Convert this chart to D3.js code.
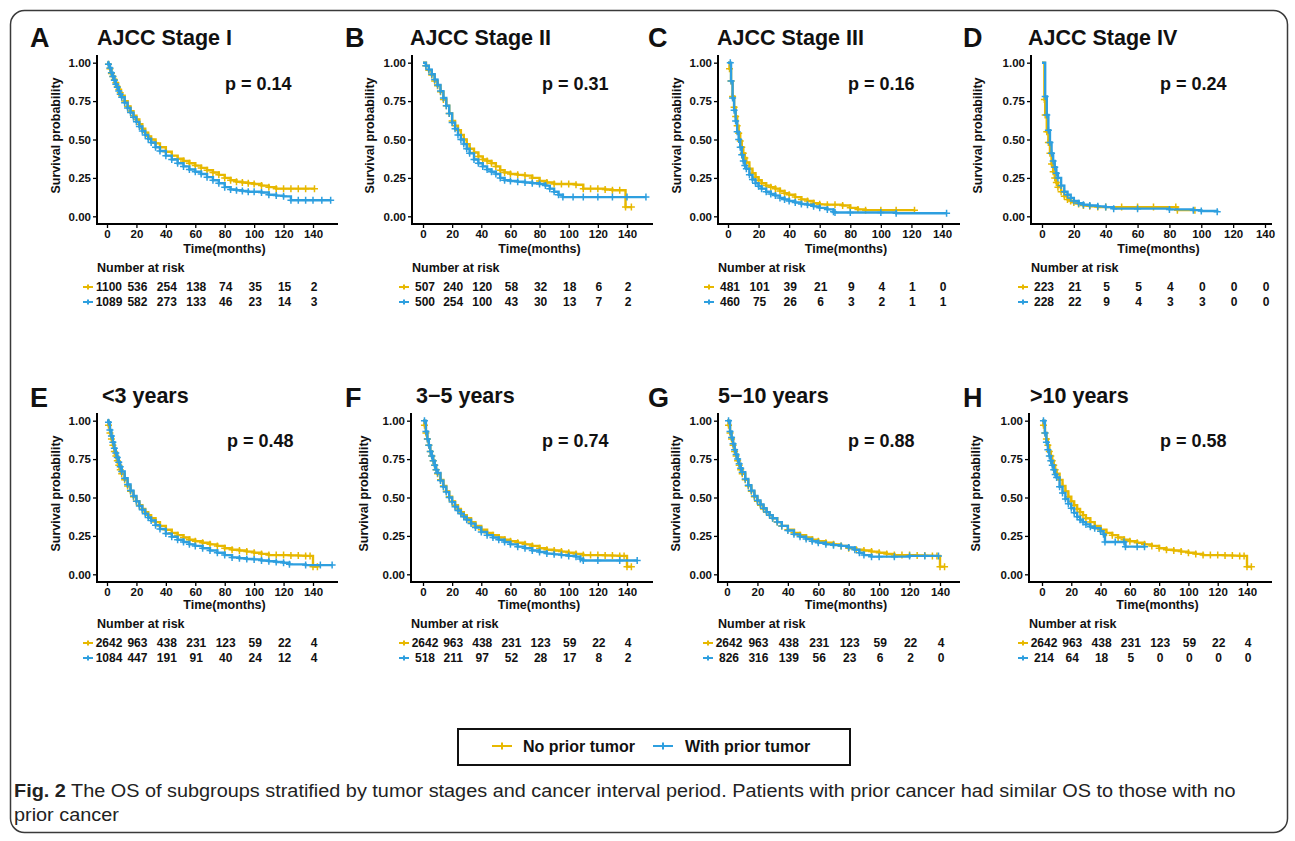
<!DOCTYPE html>
<html><head><meta charset="utf-8">
<script src="https://cdn.jsdelivr.net/npm/d3@7"></script>
<style>
body{margin:0;background:#fff}
svg{display:block}
text{font-family:"Liberation Sans",Arial,Helvetica,sans-serif}
</style>
</head><body>
<svg id="c" width="1295" height="841"></svg>
<script>
// ---------------- DATA ----------------
const seriesNames = ["No prior tumor", "With prior tumor"];
const seriesColors = ["#E7B800", "#2E9FDF"];
const timeTicks = [0, 20, 40, 60, 80, 100, 120, 140];
const survTicks = [0, 0.25, 0.5, 0.75, 1];
const panelLetters = ["A", "B", "C", "D", "E", "F", "G", "H"];
const panelTitles = ["AJCC Stage I", "AJCC Stage II", "AJCC Stage III", "AJCC Stage IV", "<3 years", "3\u22125 years", "5\u221210 years", ">10 years"];
const pLabels = ["p = 0.14", "p = 0.31", "p = 0.16", "p = 0.24", "p = 0.48", "p = 0.74", "p = 0.88", "p = 0.58"];

// Kaplan-Meier curves: [months, survival probability]
const noPriorA = [[0,1],[1,0.99],[2,0.96],[3,0.93],[4,0.91],[5,0.89],[6,0.87],[7,0.845],[8,0.825],[9,0.805],[10,0.785],[12,0.75],[14,0.715],[16,0.685],[18,0.655],[20,0.63],[22,0.6],[24,0.57],[26,0.545],[28,0.52],[30,0.5],[33,0.475],[36,0.45],[40,0.42],[44,0.395],[48,0.375],[52,0.36],[56,0.345],[60,0.33],[64,0.315],[68,0.3],[72,0.285],[76,0.27],[80,0.25],[84,0.235],[88,0.225],[92,0.22],[96,0.215],[100,0.21],[105,0.2],[110,0.19],[115,0.18],[120,0.18],[125,0.18],[130,0.18],[135,0.18],[141,0.18]];
const withPriorA = [[0,1],[1,0.99],[2,0.965],[3,0.935],[4,0.91],[5,0.885],[6,0.86],[7,0.84],[8,0.815],[9,0.795],[10,0.775],[12,0.74],[14,0.705],[16,0.675],[18,0.645],[20,0.615],[22,0.585],[24,0.555],[26,0.53],[28,0.505],[30,0.48],[33,0.45],[36,0.425],[40,0.395],[44,0.37],[48,0.345],[52,0.325],[56,0.305],[60,0.29],[64,0.275],[68,0.255],[72,0.235],[76,0.215],[80,0.19],[84,0.175],[88,0.17],[92,0.165],[96,0.16],[100,0.16],[105,0.155],[110,0.14],[115,0.135],[120,0.13],[125,0.105],[130,0.105],[135,0.105],[140,0.105],[146,0.105],[152,0.105]];
const noPriorB = [[0,1],[2,0.98],[4,0.95],[6,0.92],[8,0.88],[10,0.85],[12,0.81],[14,0.76],[16,0.72],[18,0.67],[20,0.62],[22,0.59],[24,0.56],[26,0.53],[28,0.5],[30,0.47],[32,0.44],[35,0.415],[38,0.39],[41,0.37],[44,0.36],[47,0.345],[50,0.325],[53,0.3],[56,0.285],[60,0.275],[65,0.27],[70,0.265],[75,0.25],[80,0.23],[85,0.22],[90,0.21],[95,0.21],[100,0.21],[105,0.205],[110,0.18],[115,0.18],[120,0.18],[125,0.175],[130,0.17],[135,0.17],[139,0.06],[143,0.06]];
const withPriorB = [[0,1],[2,0.98],[4,0.955],[6,0.925],[8,0.89],[10,0.855],[12,0.815],[14,0.77],[16,0.72],[18,0.67],[20,0.61],[22,0.57],[24,0.53],[26,0.5],[28,0.47],[30,0.44],[32,0.41],[35,0.37],[38,0.345],[41,0.325],[44,0.305],[47,0.29],[50,0.275],[53,0.25],[56,0.235],[60,0.23],[65,0.225],[70,0.22],[75,0.215],[80,0.21],[84,0.2],[87,0.18],[90,0.16],[93,0.14],[96,0.125],[103,0.125],[110,0.125],[120,0.125],[130,0.125],[140,0.125],[153,0.125]];
const noPriorC = [[0,1],[1,0.96],[2,0.88],[3,0.78],[4,0.71],[5,0.65],[6,0.59],[7,0.54],[8,0.49],[9,0.45],[10,0.41],[11,0.38],[12,0.35],[14,0.31],[16,0.28],[18,0.255],[20,0.235],[22,0.215],[25,0.2],[28,0.19],[31,0.18],[34,0.165],[37,0.15],[40,0.14],[44,0.125],[48,0.11],[52,0.1],[56,0.085],[60,0.078],[65,0.076],[70,0.076],[75,0.07],[80,0.055],[85,0.045],[90,0.04],[100,0.04],[110,0.04],[122,0.04]];
const withPriorC = [[0,1],[1.5,1],[2,0.88],[3,0.77],[4,0.69],[5,0.62],[6,0.55],[7,0.5],[8,0.45],[9,0.4],[10,0.36],[11,0.33],[12,0.31],[14,0.27],[16,0.24],[18,0.215],[20,0.195],[22,0.18],[25,0.16],[28,0.145],[31,0.135],[34,0.12],[37,0.11],[40,0.1],[44,0.09],[48,0.08],[52,0.075],[56,0.065],[60,0.055],[65,0.045],[69,0.03],[70,0.025],[80,0.025],[100,0.025],[110,0.02],[143,0.02]];
const noPriorD = [[0,1],[1.5,0.76],[2,0.66],[3,0.55],[4,0.48],[5,0.41],[6,0.34],[7,0.29],[8,0.25],[9,0.22],[10,0.19],[12,0.16],[14,0.13],[16,0.11],[18,0.1],[20,0.09],[23,0.08],[26,0.07],[30,0.065],[35,0.06],[40,0.06],[50,0.06],[60,0.06],[70,0.06],[84,0.06],[85,0.04],[96,0.04]];
const withPriorD = [[0,1],[2,0.78],[3,0.66],[4,0.56],[5,0.48],[6,0.41],[7,0.36],[8,0.32],[9,0.28],[10,0.25],[12,0.2],[14,0.16],[16,0.14],[18,0.12],[20,0.1],[23,0.085],[26,0.075],[30,0.07],[35,0.065],[40,0.06],[45,0.05],[60,0.05],[80,0.045],[95,0.04],[100,0.035],[110,0.03]];
// "No prior tumor" group is the same cohort in panels E-H
const noPriorInterval = [[0,1],[1,0.97],[2,0.92],[3,0.88],[4,0.84],[5,0.8],[6,0.77],[7,0.74],[8,0.71],[9,0.68],[10,0.655],[12,0.615],[14,0.575],[16,0.54],[18,0.505],[20,0.475],[22,0.45],[24,0.425],[26,0.405],[28,0.385],[30,0.365],[33,0.34],[36,0.315],[40,0.29],[44,0.27],[48,0.255],[52,0.24],[56,0.225],[60,0.215],[65,0.205],[70,0.195],[75,0.185],[80,0.17],[85,0.16],[90,0.155],[95,0.148],[100,0.14],[105,0.133],[110,0.125],[115,0.125],[120,0.125],[125,0.123],[130,0.122],[135,0.12],[138,0.12],[140,0.05],[143,0.05]];
const withPriorE = [[0,1],[1,0.99],[2,0.94],[3,0.9],[4,0.86],[5,0.82],[6,0.79],[7,0.76],[8,0.73],[9,0.7],[10,0.67],[12,0.625],[14,0.585],[16,0.545],[18,0.51],[20,0.475],[22,0.445],[24,0.42],[26,0.395],[28,0.37],[30,0.35],[33,0.32],[36,0.295],[40,0.265],[44,0.245],[48,0.225],[52,0.21],[56,0.195],[60,0.185],[65,0.17],[70,0.155],[75,0.14],[80,0.125],[85,0.11],[90,0.105],[95,0.1],[100,0.097],[105,0.09],[110,0.085],[115,0.08],[120,0.075],[124,0.065],[135,0.06],[145,0.06],[153,0.06]];
const withPriorF = [[0,1],[1,1],[2,0.93],[3,0.88],[4,0.84],[5,0.8],[6,0.77],[7,0.74],[8,0.71],[9,0.68],[10,0.66],[12,0.61],[14,0.57],[16,0.535],[18,0.5],[20,0.47],[22,0.44],[24,0.415],[26,0.395],[28,0.375],[30,0.355],[33,0.33],[36,0.305],[40,0.275],[44,0.255],[48,0.24],[52,0.225],[56,0.21],[60,0.195],[65,0.18],[70,0.17],[75,0.155],[80,0.145],[85,0.135],[90,0.13],[95,0.125],[100,0.12],[105,0.115],[108,0.1],[110,0.09],[120,0.09],[135,0.09],[147,0.09]];
const withPriorG = [[0,1],[1,1],[2,0.93],[3,0.89],[4,0.85],[5,0.81],[6,0.78],[7,0.75],[8,0.72],[9,0.69],[10,0.665],[12,0.62],[14,0.58],[16,0.545],[18,0.51],[20,0.48],[22,0.455],[24,0.43],[26,0.405],[28,0.385],[30,0.365],[33,0.34],[36,0.315],[40,0.285],[44,0.26],[48,0.245],[52,0.23],[56,0.215],[60,0.205],[65,0.195],[70,0.19],[75,0.185],[80,0.175],[84,0.16],[87,0.14],[90,0.125],[95,0.115],[100,0.115],[110,0.115],[120,0.12],[130,0.12],[139,0.12]];
const withPriorH = [[0,1],[1,1],[2,0.92],[3,0.86],[4,0.81],[5,0.77],[6,0.74],[7,0.71],[8,0.68],[9,0.65],[10,0.63],[12,0.57],[14,0.53],[16,0.49],[18,0.46],[20,0.43],[22,0.4],[24,0.375],[26,0.355],[28,0.34],[30,0.325],[33,0.31],[36,0.3],[40,0.28],[42,0.26],[43,0.21],[50,0.21],[56,0.21],[57,0.18],[65,0.18],[70,0.18]];

// Number at risk tables (at timeTicks)
const riskNoA = [1100, 536, 254, 138, 74, 35, 15, 2];
const riskWithA = [1089, 582, 273, 133, 46, 23, 14, 3];
const riskNoB = [507, 240, 120, 58, 32, 18, 6, 2];
const riskWithB = [500, 254, 100, 43, 30, 13, 7, 2];
const riskNoC = [481, 101, 39, 21, 9, 4, 1, 0];
const riskWithC = [460, 75, 26, 6, 3, 2, 1, 1];
const riskNoD = [223, 21, 5, 5, 4, 0, 0, 0];
const riskWithD = [228, 22, 9, 4, 3, 3, 0, 0];
const riskNoInterval = [2642, 963, 438, 231, 123, 59, 22, 4];
const riskWithE = [1084, 447, 191, 91, 40, 24, 12, 4];
const riskWithF = [518, 211, 97, 52, 28, 17, 8, 2];
const riskWithG = [826, 316, 139, 56, 23, 6, 2, 0];
const riskWithH = [214, 64, 18, 5, 0, 0, 0, 0];

const captionBold = "Fig. 2";
const captionLine1 = " The OS of subgroups stratified by tumor stages and cancer interval period. Patients with prior cancer had similar OS to those with no";
const captionLine2 = "prior cancer";

// ---------------- LAYOUT ----------------
const curvesNo = [noPriorA, noPriorB, noPriorC, noPriorD, noPriorInterval, noPriorInterval, noPriorInterval, noPriorInterval];
const curvesWith = [withPriorA, withPriorB, withPriorC, withPriorD, withPriorE, withPriorF, withPriorG, withPriorH];
const risksNo = [riskNoA, riskNoB, riskNoC, riskNoD, riskNoInterval, riskNoInterval, riskNoInterval, riskNoInterval];
const risksWith = [riskWithA, riskWithB, riskWithC, riskWithD, riskWithE, riskWithF, riskWithG, riskWithH];

const boxes = [
  {left:97, right:338, x0:107, x140:313, letterX:30, titleX:97, ylabX:56, pX:225},
  {left:412, right:653, x0:423, x140:627, letterX:345, titleX:410, ylabX:370, pX:542},
  {left:718, right:960, x0:728, x140:942, letterX:648, titleX:717, ylabX:677, pX:848},
  {left:1031, right:1272, x0:1042, x140:1265, letterX:963, titleX:1028, ylabX:978, pX:1160},
  {left:97, right:338, x0:107, x140:313, letterX:30, titleX:102, ylabX:56, pX:227},
  {left:411, right:653, x0:423, x140:627, letterX:345, titleX:416, ylabX:364, pX:542},
  {left:718, right:960, x0:727, x140:940, letterX:648, titleX:718, ylabX:676, pX:848},
  {left:1029, right:1272, x0:1042, x140:1247, letterX:963, titleX:1030, ylabX:976, pX:1160}
];
const rows = [
  {top:55, bottom:224, letterY:47, titleY:45, pY:90, timeY:253, narY:272, r1:291, r2:306},
  {top:413, bottom:582, letterY:407, titleY:403, pY:447, timeY:609, narY:628, r1:647, r2:662}
];

const svg = d3.select("#c");
svg.append("rect").attr("width", 1295).attr("height", 841).attr("fill", "#fff");
svg.append("rect").attr("x", 10.5).attr("y", 10.5).attr("width", 1277).attr("height", 822)
  .attr("rx", 14).attr("fill", "none").attr("stroke", "#3a3a3a").attr("stroke-width", 1.5);

function keySymbol(g, cx, cy, color, half, tick) {
  g.append("path")
    .attr("d", `M${cx - half},${cy}H${cx + half}M${cx},${cy - tick}V${cy + tick}`)
    .attr("stroke", color).attr("stroke-width", 2).attr("fill", "none");
}

panelLetters.forEach((letter, i) => {
  const b = boxes[i], r = rows[i < 4 ? 0 : 1];
  const g = svg.append("g");
  const x = d3.scaleLinear().domain([0, 140]).range([b.x0, b.x140]);
  const y = d3.scaleLinear().domain([-0.05, 1.05]).range([r.bottom, r.top]);

  g.append("text").attr("x", b.letterX).attr("y", r.letterY).text(letter)
    .attr("font-size", 27).attr("font-weight", "bold").attr("fill", "#111");
  g.append("text").attr("x", b.titleX).attr("y", r.titleY).text(panelTitles[i])
    .attr("font-size", 21.5).attr("font-weight", "bold").attr("fill", "#111");

  // axes
  const ya = g.append("g").attr("transform", `translate(${b.left},0)`)
    .call(d3.axisLeft(y).tickValues(survTicks).tickFormat(d3.format(".2f")).tickSize(4).tickPadding(2));
  const xa = g.append("g").attr("transform", `translate(0,${r.bottom})`)
    .call(d3.axisBottom(x).tickValues(timeTicks).tickSize(4).tickPadding(2));
  [ya, xa].forEach(a => {
    a.select(".domain").remove();
    a.selectAll(".tick line").attr("stroke", "#000").attr("stroke-width", 1.3);
    a.selectAll(".tick text").attr("font-size", 11.5).attr("font-weight", "bold").attr("fill", "#111")
      .attr("font-family", '"Liberation Sans",Arial,sans-serif');
  });
  g.append("path").attr("d", `M${b.left},${r.top}V${r.bottom}H${b.right}`)
    .attr("fill", "none").attr("stroke", "#000").attr("stroke-width", 2);

  g.append("text").attr("transform", `translate(${b.ylabX + 4},${(r.top + r.bottom) / 2 - 4}) rotate(-90)`)
    .attr("text-anchor", "middle").text("Survival probability")
    .attr("font-size", 12.5).attr("font-weight", "bold").attr("fill", "#111");
  g.append("text").attr("x", (b.left + b.right) / 2 + 7).attr("y", r.timeY).attr("text-anchor", "middle")
    .text("Time(months)").attr("font-size", 12.5).attr("font-weight", "bold").attr("fill", "#111");

  // curves
  const line = d3.line().x(d => x(d[0])).y(d => y(d[1])).curve(d3.curveStepAfter);
  [curvesNo[i], curvesWith[i]].forEach((pts, s) => {
    const col = seriesColors[s];
    g.append("path").attr("d", line(pts)).attr("fill", "none").attr("stroke", col).attr("stroke-width", 2.4);
    g.append("g").selectAll("path").data(pts.slice(1)).join("path")
      .attr("d", d => `M${x(d[0]) - 3.5},${y(d[1])}h7M${x(d[0])},${y(d[1]) - 3.5}v7`)
      .attr("stroke", col).attr("stroke-width", 1.5).attr("fill", "none");
  });

  g.append("text").attr("x", b.pX).attr("y", r.pY).text(pLabels[i])
    .attr("font-size", 18).attr("font-weight", "bold").attr("fill", "#111");

  // risk table
  g.append("text").attr("x", b.left).attr("y", r.narY).text("Number at risk")
    .attr("font-size", 12.5).attr("font-weight", "bold").attr("fill", "#111");
  [[risksNo[i], r.r1], [risksWith[i], r.r2]].forEach(([vals, yy], s) => {
    g.append("g").selectAll("text").data(vals).join("text")
      .attr("x", (d, k) => x(timeTicks[k]) + (k === 0 ? 2 : 1)).attr("y", yy).attr("text-anchor", "middle")
      .text(d => d).attr("font-size", 12).attr("font-weight", "bold").attr("fill", "#111");
    keySymbol(g, x(0) - 19, yy - 4, seriesColors[s], 5, 2.5);
  });
});

// legend
const lg = svg.append("g");
lg.append("rect").attr("x", 458).attr("y", 729).attr("width", 392).attr("height", 36)
  .attr("fill", "#fff").attr("stroke", "#111").attr("stroke-width", 2);
keySymbol(lg, 502, 746, seriesColors[0], 10, 3.5);
keySymbol(lg, 663, 746, seriesColors[1], 10, 3.5);
lg.append("text").attr("x", 523).attr("y", 752).text(seriesNames[0])
  .attr("font-size", 16).attr("font-weight", "bold").attr("fill", "#111");
lg.append("text").attr("x", 685).attr("y", 752).text(seriesNames[1])
  .attr("font-size", 16).attr("font-weight", "bold").attr("fill", "#111");

// caption
const capFont = '"Liberation Sans Narrow","DejaVu Sans Condensed","Liberation Sans",sans-serif';
const c1 = svg.append("text").attr("x", 0).attr("y", 0).attr("font-size", 18.5).attr("fill", "#222")
  .attr("font-family", capFont);
c1.append("tspan").attr("font-weight", "bold").text(captionBold);
c1.append("tspan").text(captionLine1);
const w1 = c1.node().getComputedTextLength();
const sx = 1222 / w1;
c1.attr("transform", `translate(14,797) scale(${sx},1)`);
svg.append("text").attr("font-size", 18.5).attr("fill", "#222").attr("font-family", capFont)
  .attr("transform", `translate(14,821) scale(${sx},1)`).text(captionLine2);
</script>
</body></html>
